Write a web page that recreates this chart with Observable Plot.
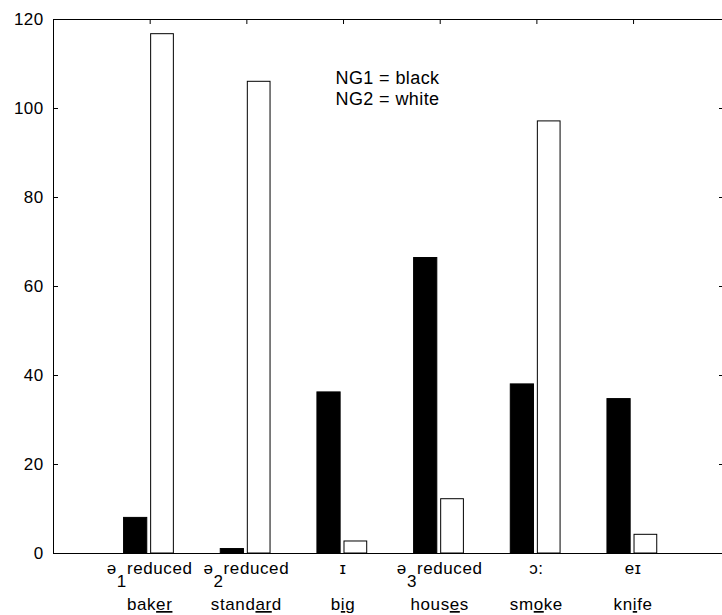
<!DOCTYPE html>
<html><head><meta charset="utf-8">
<script src="https://cdn.jsdelivr.net/npm/d3@7"></script>
<script src="https://cdn.jsdelivr.net/npm/@observablehq/plot@0.6"></script>
<style>
html,body{margin:0;padding:0;overflow:hidden;background:#fff;}
#chart svg{display:block;}
</style></head><body><div id="chart"></div>
<script>
// ---- data ----
const categories = [1, 2, 3, 4, 5, 6];
const symbols = ["ə", "ə", "ɪ", "ə", "ɔ:", "eɪ"];
const subscripts = ["1", "2", "", "3", "", ""];
const suffixes = ["reduced", "reduced", "", "reduced", "", ""];
const words = ["baker", "standard", "big", "houses", "smoke", "knife"];
const underlined = [[3, 5], [5, 7], [1, 2], [4, 5], [2, 3], [2, 3]]; // letter ranges underlined
const ng1 = [8, 1, 36.2, 66.4, 38, 34.7];      // black bars
const ng2 = [116.7, 106, 2.7, 12.2, 97.1, 4.2]; // white bars
const yTicks = [0, 20, 40, 60, 80, 100, 120];
const legendLines = ["NG1 = black", "NG2 = white"];

const data = categories.map((c, i) => ({c, ng1: ng1[i], ng2: ng2[i]}));
const FONT = "'Liberation Sans', Arial, 'DejaVu Sans', sans-serif";

const W = 722, H = 615, ML = 53, MR = 0, MT = 19, MB = 62;
const xMax = 6.92, yMax = 120;
const tickX = xMax * 5 / (W - ML - MR);   // 5px in x data units
const tickXr = xMax * 3 / (W - ML - MR);  // 3px
const tickY = yMax * 5 / (H - MT - MB);   // 5px in y data units

const plot = Plot.plot({
  width: W, height: H,
  marginLeft: ML, marginRight: MR, marginTop: MT, marginBottom: MB,
  style: {fontFamily: FONT, fontSize: "17px", color: "black", background: "white"},
  x: {domain: [0, xMax], axis: null},
  y: {domain: [0, yMax], axis: null},
  marks: [
    Plot.rectY(data, {x1: d => d.c - 0.27, x2: d => d.c - 0.03, y: "ng1", fill: "black", stroke: "black", strokeWidth: 1}),
    Plot.rectY(data, {x1: d => d.c + 0.01, x2: d => d.c + 0.245, y: "ng2", fill: "white", stroke: "black", strokeWidth: 1}),
    // box: left, bottom and top edges (the right edge lies outside the window)
    Plot.ruleY([0, yMax], {y: d => d, stroke: "black", strokeWidth: 1}),
    Plot.ruleX([0], {x: d => d, stroke: "black", strokeWidth: 1}),
    // inward ticks
    Plot.ruleY(yTicks, {y: d => d, x1: d => 0, x2: d => tickX, stroke: "black", strokeWidth: 1}),
    Plot.ruleY(yTicks, {y: d => d, x1: d => xMax - tickXr, x2: d => xMax, stroke: "black", strokeWidth: 1}),
    Plot.ruleX(categories, {x: d => d, y1: d => yMax - tickY, y2: d => yMax, stroke: "black", strokeWidth: 1}),
    // y labels
    Plot.axisY(yTicks, {anchor: "left", tickSize: 0, tickPadding: 10, fontSize: 17, fill: "black"}),
    Plot.text([legendLines.join("\n")], {frameAnchor: "top-left", lineAnchor: "middle", dx: 282, dy: 68, lineHeight: 1.17, fontSize: 18, textAnchor: "start", fill: "black"})
  ]
});
plot.style.letterSpacing = "0.4px";
document.getElementById("chart").appendChild(plot);

// category labels (two lines, with subscripts and underlined letters), placed with the plot's scales
const xs = plot.scale("x"), ys = plot.scale("y");
const base = ys.apply(0);
const g = d3.select(plot).append("g")
  .attr("aria-label", "category labels")
  .attr("font-family", FONT).attr("font-size", 17).attr("fill", "black")
  .attr("letter-spacing", "0.6px")
  .attr("text-anchor", "middle");
categories.forEach((c, i) => {
  const x = xs.apply(c);
  const t1 = g.append("text").attr("x", x).attr("y", base + 21);
  t1.append("tspan").text(symbols[i]);
  if (subscripts[i]) {
    t1.append("tspan").attr("dy", 13).text(subscripts[i]);
    t1.append("tspan").attr("dy", -13).text(suffixes[i]);
  }
  const w = words[i], [a, b] = underlined[i];
  const t2 = g.append("text").attr("x", x).attr("y", base + 57);
  t2.append("tspan").text(w.slice(0, a));
  t2.append("tspan").style("text-decoration", "underline").text(w.slice(a, b));
  t2.append("tspan").text(w.slice(b));
});
</script></body></html>
